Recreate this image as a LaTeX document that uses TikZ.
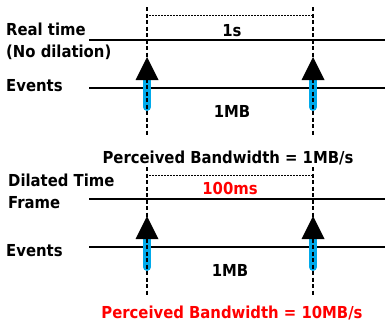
\documentclass[tikz,border=0pt]{standalone}
\usepackage{fontspec}
\setmainfont{DejaVu Sans Condensed}
\usepackage{xcolor}
\usepackage{tikz}
\usetikzlibrary{arrows.meta}

\definecolor{evblue}{RGB}{0,170,235}

\begin{document}
\begin{tikzpicture}[x=1pt, y=-1pt,
            every node/.style = {font=\fontsize{16.5}{19}\selectfont\bfseries, inner sep=0pt},
            axis/.style = {line width=2.2pt},
            tick/.style = {line width=2pt, dash pattern=on 4pt off 2.5pt},
            span/.style = {line width=1pt, dash pattern=on 2pt off 1pt},
            event/.style = {draw=evblue, line width=8pt, line cap=round,
                        -{Triangle[length=23pt, width=23pt, line width=0pt, black]}},
            lbl/.style = {anchor=west}]
            \useasboundingbox (0,0) rectangle (385,325);
            % Real time, no dilation
            \coordinate (rt-w) at (89,40);
            \coordinate (rt-e) at (385,40);
            \coordinate (ev1-w) at (89,88);
            \coordinate (ev1-e) at (385,88);
            \coordinate (a1) at (147,107);
            \coordinate (a1t) at (147,57);
            \coordinate (b1) at (313,107);
            \coordinate (b1t) at (313,57);
            \node[lbl] (real) at (6,29) {Real time};
            \node[lbl] (nodil) at (6,52) {(No dilation)};
            \node[lbl] (ev1) at (6,86) {Events};
            \draw[axis] (rt-w) -- (rt-e);
            \draw[axis] (ev1-w) -- (ev1-e);
            \draw[event] (a1) -- (a1t);
            \draw[event] (b1) -- (b1t);
            \coordinate (v1a) at (147,7);
            \coordinate (v1b) at (147,135);
            \coordinate (v2a) at (313,7);
            \coordinate (v2b) at (313,135);
            \draw[tick] (v1a) -- (v1b);
            \draw[tick] (v2a) -- (v2b);
            \coordinate (s1a) at (149,15);
            \coordinate (s1b) at (312,15);
            \draw[span] (s1a) -- (s1b);
            \node (sec) at (232,31) {1s};
            \node (mb1) at (232,111) {1MB};
            \node (bw1) at (228,158) {Perceived Bandwidth = 1MB/s};
            % Dilated time frame
            \coordinate (dt-w) at (89,199);
            \coordinate (dt-e) at (385,199);
            \coordinate (ev2-w) at (89,247);
            \coordinate (ev2-e) at (385,247);
            \coordinate (a2) at (147,267);
            \coordinate (a2t) at (147,216);
            \coordinate (b2) at (313,267);
            \coordinate (b2t) at (313,216);
            \node[lbl] (dil) at (8,180) {Dilated Time};
            \node[lbl] (frame) at (8,203) {Frame};
            \node[lbl] (ev2) at (6,251) {Events};
            \draw[axis] (dt-w) -- (dt-e);
            \draw[axis] (ev2-w) -- (ev2-e);
            \draw[event] (a2) -- (a2t);
            \draw[event] (b2) -- (b2t);
            \coordinate (v3a) at (147,167);
            \coordinate (v3b) at (147,295);
            \coordinate (v4a) at (313,167);
            \coordinate (v4b) at (313,295);
            \draw[tick] (v3a) -- (v3b);
            \draw[tick] (v4a) -- (v4b);
            \coordinate (s2a) at (149,175);
            \coordinate (s2b) at (312,175);
            \draw[span] (s2a) -- (s2b);
            \node[text=red] (ms) at (230,188) {100ms};
            \node (mb2) at (230,270) {1MB};
            \node[text=red] (bw2) at (232,313) {Perceived Bandwidth = 10MB/s};
        \end{tikzpicture}
\end{document}
